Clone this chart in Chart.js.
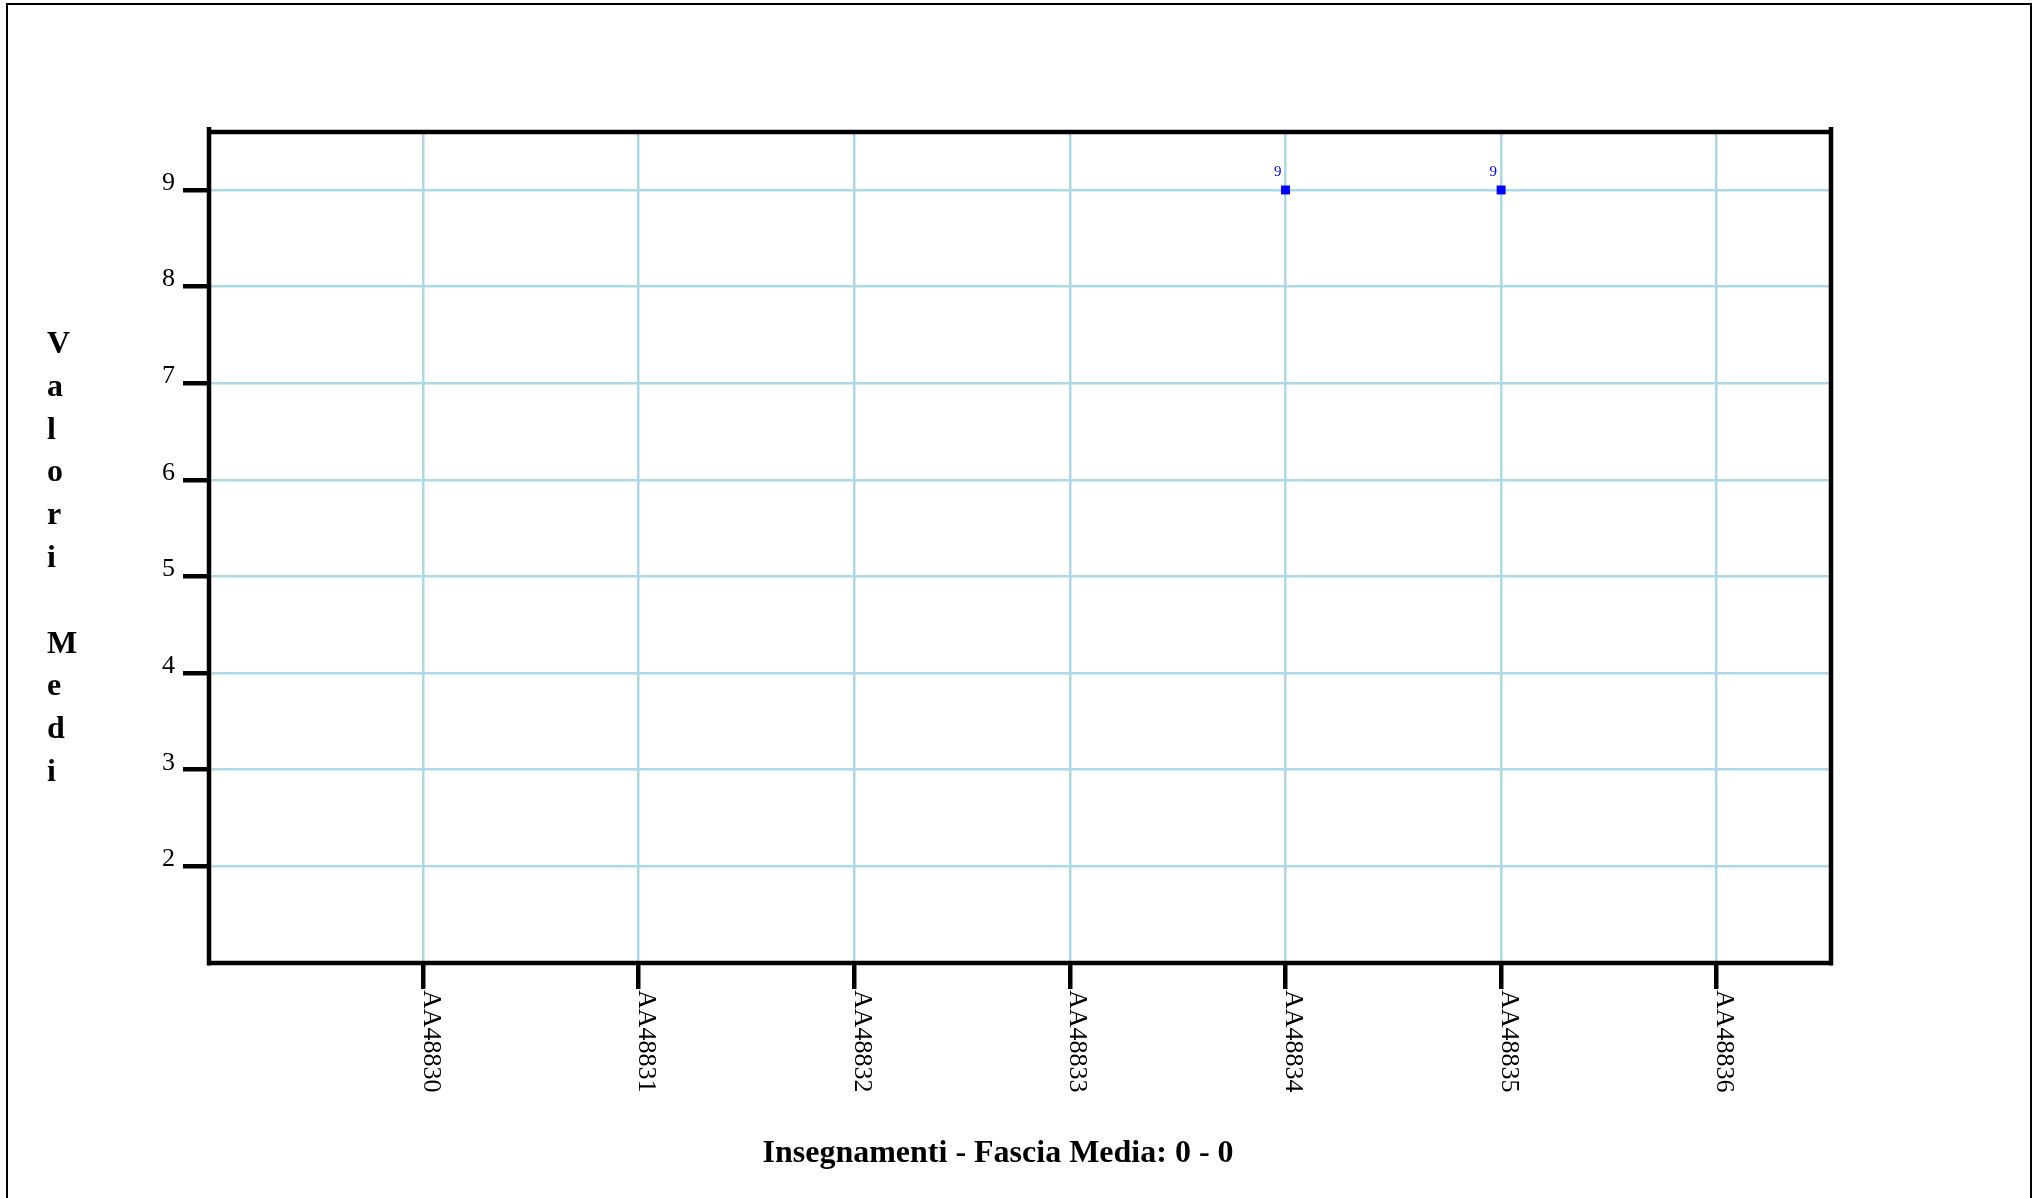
<!DOCTYPE html>
<html>
<head>
<meta charset="utf-8">
<script src="https://cdn.jsdelivr.net/npm/chart.js@4/dist/chart.umd.min.js"></script>
<style>
  html, body { margin: 0; padding: 0; background: #fff; overflow: hidden; }
  #wrap { position: relative; width: 2039px; height: 1198px; }
  #frame { position: absolute; left: 6px; top: 3px; width: 2026px; height: 1300px;
           box-sizing: border-box; border: 2px solid #000; }
  canvas { position: absolute; left: 0; top: 0; }
</style>
</head>
<body>
<div id="wrap">
  <div id="frame"></div>
  <canvas id="c" width="2039" height="1198"></canvas>
</div>
<script>
// ---- data ----
const categories = ['AA48830', 'AA48831', 'AA48832', 'AA48833', 'AA48834', 'AA48835', 'AA48836'];
const values = [null, null, null, null, 9, 9, null];
const yTickValues = [2, 3, 4, 5, 6, 7, 8, 9];
const yTitle = 'Valori Medi';
const xTitle = 'Insegnamenti - Fascia Media: 0 - 0';

const SERIF = '"Liberation Serif", "Times New Roman", serif';

const points = categories.map((c, i) => ({ x: i, y: values[i] }));

const decor = {
  id: 'decor',
  beforeDatasetsDraw(chart) {
    const { ctx, chartArea: a } = chart;
    ctx.save();
    ctx.strokeStyle = '#000';
    ctx.lineWidth = 4.5;
    ctx.lineCap = 'butt';
    ctx.beginPath();
    ctx.moveTo(a.left, a.top); ctx.lineTo(a.right, a.top);
    ctx.moveTo(a.left, a.bottom); ctx.lineTo(a.right, a.bottom);
    ctx.moveTo(a.left, a.top - 5); ctx.lineTo(a.left, a.bottom + 2.5);
    ctx.moveTo(a.right, a.top - 5); ctx.lineTo(a.right, a.bottom + 2.5);
    ctx.stroke();
    ctx.restore();
  },
  afterDraw(chart) {
    const { ctx, chartArea: a } = chart;
    const xs = chart.scales.x;
    ctx.save();
    ctx.fillStyle = '#000';
    ctx.font = '26px ' + SERIF;
    ctx.textAlign = 'left';
    ctx.textBaseline = 'alphabetic';
    categories.forEach((lab, i) => {
      const px = xs.getPixelForValue(i);
      ctx.save();
      ctx.translate(px + 0.5, a.bottom + 27);
      ctx.rotate(Math.PI / 2);
      ctx.fillText(lab, 0, 0);
      ctx.restore();
    });
    ctx.fillStyle = '#0000ff';
    ctx.font = '15px ' + SERIF;
    ctx.textAlign = 'right';
    const meta = chart.getDatasetMeta(0);
    meta.data.forEach((pt, i) => {
      if (values[i] === null || values[i] === undefined) return;
      ctx.fillText(String(values[i]), pt.x - 4, pt.y - 14);
    });
    ctx.fillStyle = '#000';
    ctx.font = 'bold 32px ' + SERIF;
    ctx.textAlign = 'left';
    [...yTitle].forEach((ch, k) => {
      if (ch.trim() === '') return;
      ctx.fillText(ch, 47, 353 + 42.8 * k);
    });
    ctx.textAlign = 'center';
    ctx.fillText(xTitle, 998, 1162);
    ctx.restore();
  }
};

new Chart(document.getElementById('c'), {
  type: 'line',
  data: {
    datasets: [{
      data: points,
      showLine: false,
      pointStyle: 'rect',
      pointRadius: 6.3,
      pointHoverRadius: 6.3,
      pointBorderWidth: 0,
      pointBackgroundColor: '#0000ff',
      pointBorderColor: '#0000ff',
      borderColor: '#0000ff',
      backgroundColor: '#0000ff'
    }]
  },
  options: {
    responsive: false,
    animation: false,
    devicePixelRatio: 1,
    layout: { padding: { left: 0, top: 132, right: 208, bottom: 0 } },
    plugins: { legend: { display: false }, tooltip: { enabled: false }, title: { display: false } },
    scales: {
      x: {
        type: 'linear',
        min: -0.993,
        max: 6.53,
        afterBuildTicks(scale) { scale.ticks = categories.map((c, i) => ({ value: i })); },
        afterFit(scale) { scale.height = 1198 - 963; },
        border: { display: false },
        grid: { color: '#add8e6', lineWidth: 2.5, drawTicks: true, tickLength: 26, tickColor: '#000', tickWidth: 4.5 },
        ticks: { display: false }
      },
      y: {
        type: 'linear',
        min: 1,
        max: 9.6,
        afterBuildTicks(scale) { scale.ticks = yTickValues.map(v => ({ value: v })); },
        afterFit(scale) { scale.width = 209; },
        border: { display: false },
        grid: { color: '#add8e6', lineWidth: 2.5, drawTicks: true, tickLength: 26, tickColor: '#000', tickWidth: 4.5 },
        ticks: { color: '#000', font: { family: SERIF, size: 26 }, padding: 8, labelOffset: -7,
                 callback: v => String(v) }
      }
    }
  },
  plugins: [decor]
});
</script>
</body>
</html>
